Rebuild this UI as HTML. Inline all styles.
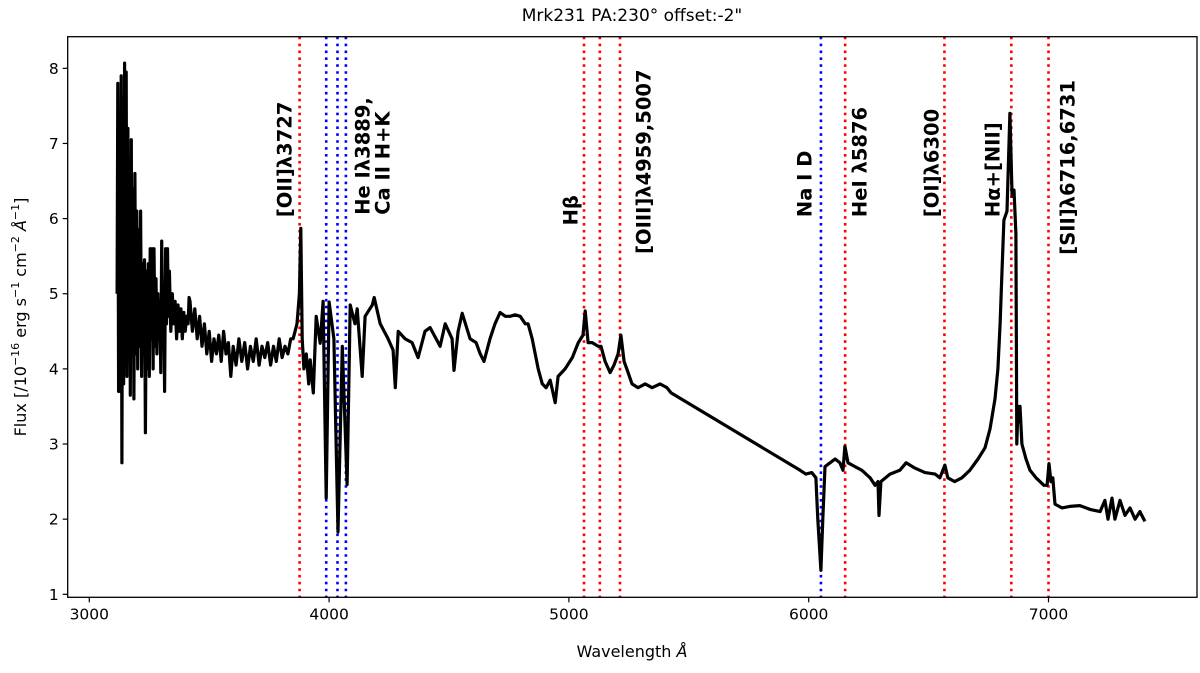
<!DOCTYPE html>
<html><head><meta charset="utf-8"><style>
html,body{margin:0;padding:0;background:#fff;}
svg{display:block;font-family:"DejaVu Sans","Liberation Sans",sans-serif;}
</style></head><body>
<svg id="chart" width="1200" height="673" viewBox="0 0 1200 673" xmlns="http://www.w3.org/2000/svg">
<text x="632" y="21" font-size="17" text-anchor="middle">Mrk231 PA:230° offset:-2"</text>
<g id="plot"></g>
<text x="632" y="657" font-size="16" text-anchor="middle">Wavelength <tspan font-style="italic">Å</tspan></text>
<text transform="translate(26,317) rotate(-90)" font-size="16" text-anchor="middle">Flux  [/10<tspan dy="-7" font-size="11">−16</tspan><tspan dy="7"> erg s</tspan><tspan dy="-7" font-size="11">−1</tspan><tspan dy="7"> cm</tspan><tspan dy="-7" font-size="11">−2</tspan><tspan dy="7" font-style="italic"> Å</tspan><tspan dy="-7" font-size="11">−1</tspan><tspan dy="7">]</tspan></text>
</svg>
<script>
const xTicks=[3000,4000,5000,6000,7000];
const yTicks=[1,2,3,4,5,6,7,8];
const redLines=[3877,5063,5129,5213,6152,6566,6845,7000];
const blueLines=[3988,4035,4070,6051];
const labelTexts=["[OII]λ3727","He Iλ3889,","Ca II H+K","Hβ","[OIII]λ4959,5007","Na I D","HeI λ5876","[OI]λ6300","Hα+[NII]","[SII]λ6716,6731"];
const labelWaves=[3816,4141,4224,5009,5314,5985,6214,6514,6768,7081];
const labelFlux=[6.02,6.05,6.05,5.91,5.53,6.02,6.02,6.02,6.02,5.52];
const waves=[3116,3119,3122,3126,3129,3133,3136,3140,3143,3147,3150,3154,3157,3161,3164,3168,3171,3175,3178,3182,3186,3190,3194,3198,3202,3206,3210,3214,3218,3222,3226,3230,3234,3238,3242,3246,3250,3254,3258,3262,3266,3270,3274,3278,3282,3286,3290,3294,3298,3302,3306,3310,3314,3318,3322,3326,3330,3334,3340,3346,3352,3358,3364,3370,3376,3382,3388,3394,3400,3406,3412,3416,3420,3430,3440,3450,3460,3470,3480,3490,3500,3510,3520,3530,3540,3550,3560,3570,3580,3590,3600,3612,3624,3636,3648,3660,3672,3684,3696,3708,3720,3732,3744,3756,3768,3780,3792,3804,3816,3828,3840,3850,3866,3876,3882,3888,3895,3905,3915,3921,3934,3946,3963,3975,3988,4000,4020,4037,4055,4075,4088,4108,4117,4138,4150,4180,4188,4213,4246,4267,4276,4288,4317,4346,4371,4400,4421,4463,4484,4513,4521,4538,4555,4588,4613,4630,4646,4671,4692,4713,4735,4755,4776,4797,4818,4830,4847,4872,4889,4905,4922,4943,4955,4984,5014,5039,5059,5068,5080,5097,5122,5134,5151,5172,5188,5205,5217,5230,5247,5263,5288,5318,5347,5380,5409,5426,5964,5988,6013,6030,6038,6051,6059,6068,6089,6110,6130,6143,6151,6164,6193,6222,6256,6277,6289,6293,6301,6339,6380,6406,6443,6485,6527,6547,6568,6580,6609,6639,6672,6706,6735,6756,6777,6789,6798,6806,6814,6827,6839,6848,6856,6864,6868,6873,6877,6881,6889,6906,6923,6948,6981,6994,7002,7010,7018,7027,7056,7089,7131,7173,7215,7235,7248,7265,7277,7298,7319,7340,7361,7381,7402];
const flux=[5.0,7.8,3.7,7.3,3.7,7.9,2.75,7.6,3.8,8.07,4.2,7.95,3.9,7.2,4.4,6.5,3.65,7.05,4.3,6.4,3.6,6.6,4.2,6.1,4.0,5.85,4.3,6.1,3.9,5.4,4.2,5.45,3.15,5.3,4.0,5.4,3.9,5.6,4.4,5.6,4.0,5.6,4.3,5.2,4.2,5.0,4.4,4.9,3.95,5.7,4.4,5.1,3.7,5.6,4.6,5.6,4.7,5.3,4.5,5.0,4.6,4.9,4.4,4.85,4.5,4.8,4.4,4.75,4.5,4.7,4.6,4.95,4.9,4.5,4.8,4.4,4.7,4.3,4.6,4.2,4.5,4.1,4.4,4.2,4.45,4.1,4.5,4.2,4.35,3.9,4.3,4.05,4.4,4.1,4.35,4.0,4.3,4.1,4.4,4.05,4.3,4.15,4.35,4.05,4.3,4.1,4.4,4.15,4.3,4.2,4.4,4.4,4.6,5.0,5.87,4.4,4.0,4.2,3.8,4.12,3.68,4.7,4.34,4.9,2.28,4.89,4.4,1.83,4.3,2.46,4.85,4.6,4.8,3.9,4.7,4.85,4.95,4.6,4.4,4.25,3.75,4.5,4.4,4.35,4.15,4.5,4.55,4.3,4.6,4.4,3.98,4.5,4.74,4.4,4.35,4.2,4.1,4.4,4.6,4.75,4.7,4.7,4.72,4.7,4.6,4.6,4.4,4.0,3.8,3.75,3.85,3.55,3.9,4.0,4.15,4.35,4.45,4.77,4.35,4.35,4.3,4.3,4.1,3.95,4.05,4.2,4.45,4.1,3.95,3.8,3.75,3.8,3.75,3.8,3.75,3.68,2.65,2.6,2.62,2.55,2.0,1.32,2.0,2.7,2.75,2.8,2.75,2.65,2.97,2.75,2.7,2.65,2.55,2.45,2.5,2.05,2.5,2.6,2.65,2.75,2.68,2.62,2.6,2.55,2.72,2.55,2.5,2.55,2.65,2.8,2.95,3.2,3.6,4.0,4.6,5.3,5.98,6.1,7.4,6.3,6.38,5.8,3.0,3.5,3.3,3.5,3.0,2.8,2.65,2.55,2.45,2.45,2.74,2.5,2.55,2.2,2.15,2.17,2.18,2.13,2.1,2.25,2.0,2.28,2.0,2.25,2.05,2.15,2.0,2.1,1.97];

const NS='http://www.w3.org/2000/svg';
const L=67.7,R=1197,T=36.7,B=597.3;
function xs(w){return 89.3+(w-3000)*0.2398;}
function ys(v){return 594.3-(v-1)*75.14;}
const plot=document.getElementById('plot');
function mk(tag,attrs,parent){const e=document.createElementNS(NS,tag);for(const k in attrs)e.setAttribute(k,attrs[k]);(parent||plot).appendChild(e);return e;}

const lg=mk('g',{});


redLines.forEach(w=>{const l=mk('line',{x1:xs(w),x2:xs(w),y1:T,y2:B,stroke:'#ff0000','stroke-width':2.6,'stroke-dasharray':'2.6 4.3'},lg);

});
blueLines.forEach(w=>{const l=mk('line',{x1:xs(w),x2:xs(w),y1:T,y2:B,stroke:'#0000ff','stroke-width':2.6,'stroke-dasharray':'2.6 4.3'},lg);

});

let d='';
waves.forEach((w,i)=>{d+=(i?'L':'M')+xs(w).toFixed(1)+','+ys(flux[i]).toFixed(1);});
const sp=mk('path',{d:d,fill:'none',stroke:'#000','stroke-width':3.2,'stroke-linejoin':'round'});



labelTexts.forEach((t,i)=>{const x=xs(labelWaves[i]),y=ys(labelFlux[i]);
const tx=mk('text',{transform:'translate('+x.toFixed(1)+','+y.toFixed(1)+') rotate(-90)','font-size':19.5,'font-weight':'bold','dominant-baseline':'central'});
tx.textContent=t;

});

const fr=mk('rect',{x:L,y:T,width:R-L,height:B-T,fill:'none',stroke:'#000','stroke-width':1.3});


xTicks.forEach(v=>{const x=xs(v);mk('line',{x1:x,x2:x,y1:B,y2:B+5,stroke:'#000','stroke-width':1.2});
const t=mk('text',{x:x,y:B+22,'font-size':15.5,'text-anchor':'middle'});t.textContent=v;

});
yTicks.forEach(v=>{const y=ys(v);mk('line',{x1:L-5,x2:L,y1:y,y2:y,stroke:'#000','stroke-width':1.2});
const t=mk('text',{x:L-9,y:y+5.5,'font-size':15.5,'text-anchor':'end'});t.textContent=v;

});
</script>
</body></html>
